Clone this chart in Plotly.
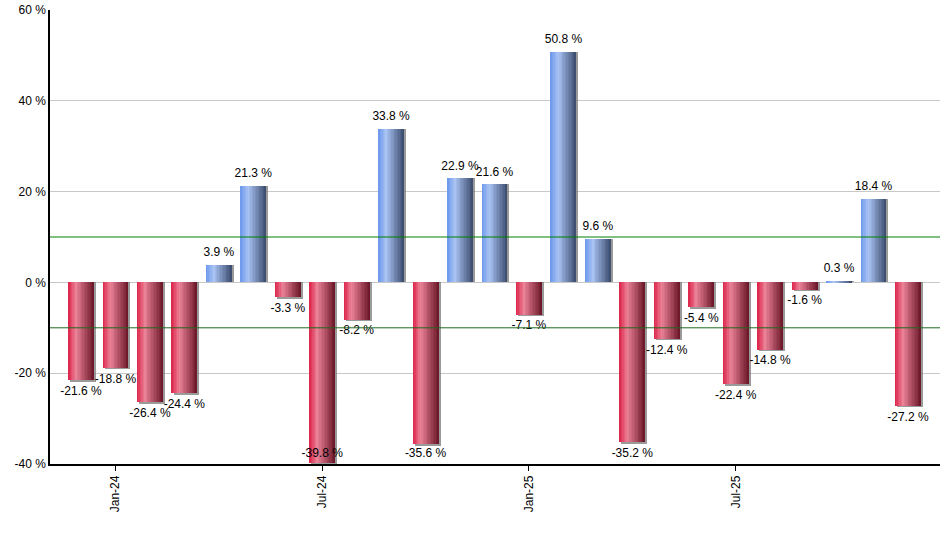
import plotly.graph_objects as go

months = ["Dec-23", "Jan-24", "Feb-24", "Mar-24", "Apr-24", "May-24", "Jun-24",
          "Jul-24", "Aug-24", "Sep-24", "Oct-24", "Nov-24", "Dec-24",
          "Jan-25", "Feb-25", "Mar-25", "Apr-25", "May-25", "Jun-25",
          "Jul-25", "Aug-25", "Sep-25", "Oct-25", "Nov-25", "Dec-25"]
values = [-21.6, -18.8, -26.4, -24.4, 3.9, 21.3, -3.3, -39.8, -8.2, 33.8, -35.6,
          22.9, 21.6, -7.1, 50.8, 9.6, -35.2, -12.4, -5.4, -22.4, -14.8, -1.6,
          0.3, 18.4, -27.2]
tick_labels = ["Jan-24", "Jul-24", "Jan-25", "Jul-25"]
y_ticks = [-40, -20, 0, 20, 40, 60]
upper_line = 10
lower_line = -10

Y_MIN, Y_MAX = -40, 60
BAR_W = 0.75
N = 18


def hex2rgb(h):
    h = h.lstrip("#")
    return [int(h[i:i + 2], 16) for i in (0, 2, 4)]


def grad(stops, t):
    for (p0, c0), (p1, c1) in zip(stops, stops[1:]):
        if p0 <= t <= p1:
            f = (t - p0) / (p1 - p0) if p1 > p0 else 0
            a, b = hex2rgb(c0), hex2rgb(c1)
            return "rgb(%d,%d,%d)" % tuple(round(a[k] + (b[k] - a[k]) * f) for k in range(3))
    return stops[-1][1]


red_stops = [(0.0, "#dc2248"), (0.3, "#ec8298"), (1.0, "#6a1628")]
blue_stops = [(0.0, "#6a96ea"), (0.3, "#aac4f4"), (1.0, "#3a4a6c")]

fig = go.Figure()

# shadow
fig.add_trace(go.Bar(
    x=months, y=[v - 0.35 if v < 0 else v for v in values],
    offset=-BAR_W / 2 + 0.06, width=BAR_W,
    marker=dict(color="rgba(120,120,120,0.75)", line=dict(width=0)),
    hoverinfo="skip", showlegend=False))

dw = BAR_W / N
for i in range(N):
    t = (i + 0.5) / N
    cols = [grad(blue_stops, t) if v >= 0 else grad(red_stops, t) for v in values]
    fig.add_trace(go.Bar(
        x=months, y=values,
        offset=-BAR_W / 2 + i * dw, width=BAR_W - i * dw,
        marker=dict(color=cols, line=dict(width=0)),
        hoverinfo="skip", showlegend=False))

lab_off = 2.6
label_y = [max(v - lab_off, Y_MIN + 2.2) if v < 0 else v + lab_off for v in values]
fig.add_trace(go.Scatter(
    x=months, y=label_y, mode="text",
    text=["%.1f %%" % v for v in values],
    textposition="middle center",
    textfont=dict(family="Liberation Sans, Arial", size=12, color="#000000"),
    hoverinfo="skip", showlegend=False))

fig.add_shape(type="line", xref="paper", x0=0, x1=1, yref="y", y0=upper_line, y1=upper_line,
              line=dict(color="#008000", width=1))
fig.add_shape(type="line", xref="paper", x0=0, x1=1, yref="y", y0=lower_line, y1=lower_line,
              line=dict(color="#1e6a1e", width=1))

fig.update_layout(
    width=940, height=550,
    margin=dict(l=50, r=0, t=10, b=86, autoexpand=False),
    barmode="overlay", bargap=0,
    plot_bgcolor="#ffffff", paper_bgcolor="#ffffff",
    font=dict(family="Liberation Sans, Arial", size=12, color="#000000"),
    showlegend=False,
    xaxis=dict(
        type="category", range=[-0.9, len(values) - 0.07],
        tickmode="array", tickvals=tick_labels, ticktext=tick_labels,
        tickangle=-90, ticks="outside", ticklen=5, tickcolor="#000000",
        showline=True, linecolor="#000000", linewidth=1.5,
        showgrid=False, zeroline=False, automargin=False,
        tickfont=dict(size=12)),
    yaxis=dict(
        range=[Y_MIN, Y_MAX], tickmode="array", tickvals=y_ticks,
        ticktext=["%d %%" % t for t in y_ticks],
        ticks="", showline=True, linecolor="#000000", linewidth=1.5,
        showgrid=True, gridcolor="#c8c8c8", gridwidth=1,
        zeroline=True, zerolinecolor="#c8c8c8", zerolinewidth=1,
        automargin=False, ticklabeloverflow="allow", tickfont=dict(size=12)),
)

fig.write_html("out.html", config={"displayModeBar": False},
               post_script="document.body.style.margin='0';")
